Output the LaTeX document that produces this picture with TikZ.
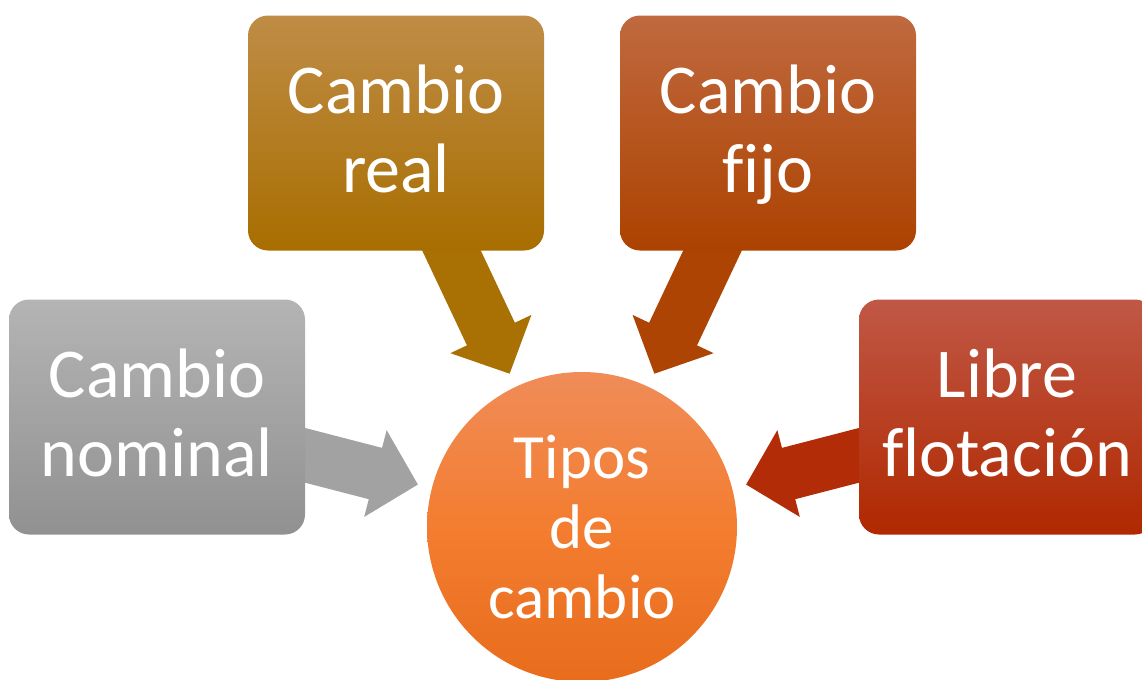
\documentclass[tikz,border=0pt]{standalone}
\usepackage{fontspec}
\setmainfont[Ligatures=NoCommon]{Carlito}
\usetikzlibrary{arrows.meta,backgrounds}

\definecolor{realtop}{HTML}{BF8C46}
\definecolor{realbot}{HTML}{A86E00}
\definecolor{fijotop}{HTML}{C0693F}
\definecolor{fijobot}{HTML}{AC4200}
\definecolor{nomtop}{HTML}{B4B4B4}
\definecolor{nombot}{HTML}{919191}
\definecolor{libretop}{HTML}{C05846}
\definecolor{librebot}{HTML}{B02800}
\definecolor{tipostop}{HTML}{F08C58}
\definecolor{tiposmid}{HTML}{F37D30}
\definecolor{tiposbot}{HTML}{E86C1C}

\begin{document}
\begin{tikzpicture}

  % Definitions
  \tikzstyle{Tipo} = [rectangle, rounded corners=10pt, minimum width=148pt, minimum height=117.5pt, inner sep=0pt, align=center, text=white, font=\fontsize{35}{39.5}\selectfont, text depth=4pt]
  \tikzstyle{Centro} = [circle, minimum size=155pt, inner sep=0pt, align=center, text=white, top color=tipostop, bottom color=tiposbot, middle color=tiposmid, font=\fontsize{31.5}{35}\selectfont, text depth=0pt]
  \tikzstyle{arrow} = [line width=26.5pt, -{Triangle[width=43.5pt,length=22pt]}, shorten >=7pt]

  \useasboundingbox (0,0) rectangle (571pt,-340pt);

  \node (tipos) [Centro] at (291pt,-263.5pt) {Tipos\\de\\cambio};
  \node (real) [Tipo, top color=realtop, bottom color=realbot, node distance=197pt, above of=tipos, xshift=-93pt] {Cambio\\real};
  \node (fijo) [Tipo, top color=fijotop, bottom color=fijobot, node distance=197pt, above of=tipos, xshift=93pt] {Cambio\\fijo};
  \node (nominal) [Tipo, top color=nomtop, bottom color=nombot, node distance=55pt, above of=tipos, xshift=-212.5pt] {Cambio\\nominal};
  \node (libre) [Tipo, top color=libretop, bottom color=librebot, node distance=55pt, above of=tipos, xshift=212.5pt] {Libre\\flotación};

  \begin{pgfonlayer}{background}
    \draw [arrow, color=nombot!85!white] (nominal.center) -- (tipos);
    \draw [arrow, color=realbot!95!realtop] (real.center) -- (tipos);
    \draw [arrow, color=fijobot!95!fijotop] (fijo.center) -- (tipos);
    \draw [arrow, color=librebot!90!libretop] (libre.center) -- (tipos);
  \end{pgfonlayer}

\end{tikzpicture}
\end{document}
